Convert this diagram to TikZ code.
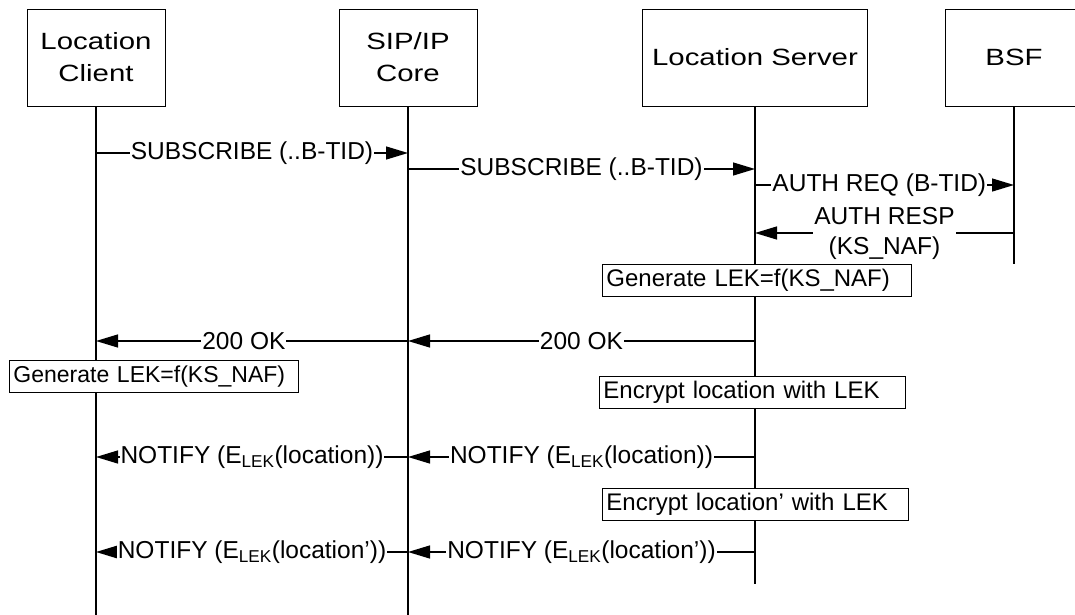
\documentclass[tikz,border=0pt]{standalone}
\usepackage{fontspec}
\setmainfont{Liberation Sans}
\newfontfamily\actorfont[FakeStretch=1.25]{Liberation Sans}
\usetikzlibrary{arrows.meta}
\usetikzlibrary{positioning}

\tikzset{
  actor/.style={draw, line width=0.9pt, minimum width=138pt, minimum height=97pt,
    align=center, font=\actorfont\fontsize{23.5}{32}\selectfont},
  lifeline/.style={line width=1.4pt},
  msg/.style={line width=1.3pt, -{Triangle[length=22pt,width=13pt]}},
  msgtext/.style={fill=white, inner xsep=1pt, inner ysep=0pt, align=center,
    font=\fontsize{24.5}{30}\selectfont},
  notebox/.style={draw, line width=0.9pt, fill=white, anchor=west, align=left,
    inner xsep=4pt, inner ysep=0pt, minimum height=32pt,
    font=\fontsize{24}{28}\selectfont}
}

\begin{document}
\begin{tikzpicture}[x=1pt, y=-1pt]
      \clip (0,0) rectangle (1075,615);
      \node[actor] (client) at (96,57.5) {Location\\Client};
      \node[actor] (core) at (408,57.5) {SIP/IP\\Core};
      \node[actor, minimum width=225pt] (server) at (755,57.5) {Location Server};
      \node[actor] (bsf) at (1014,57.5) {BSF};

      \coordinate (bottom) at (0,615);
      \coordinate (srvend) at (0,584);
      \coordinate (bsfend) at (0,264);
      \draw[lifeline] (client.south) -- (client.south |- bottom);
      \draw[lifeline] (core.south) -- (core.south |- bottom);
      \draw[lifeline] (server.south) -- (server.south |- srvend);
      \draw[lifeline] (bsf.south) -- (bsf.south |- bsfend);

      \foreach \r/\y in {r1/153, r2/169, r3/185, r4/233, r5/341, r6/457, r7/552}
        \coordinate (\r) at (0,\y);

      \draw[msg] (client |- r1) -- node[msgtext] (sub1) {SUBSCRIBE (..B-TID)} (core |- r1);
      \draw[msg] (core |- r2) -- node[msgtext] (sub2) {SUBSCRIBE (..B-TID)} (server |- r2);
      \draw[msg] (server |- r3) -- node[msgtext, pos=.48] (authreq) {AUTH REQ (B-TID)} (bsf |- r3);
      \draw[msg] (bsf |- r4) -- node[msgtext] (authresp) {AUTH RESP\\(KS\_NAF)} (server |- r4);

      \node[notebox, text width=301pt] (gensrv) at (602,280.5) {Generate LEK=f(KS\_NAF)};

      \draw[msg] (server |- r5) -- node[msgtext] (ok2) {200 OK} (core |- r5);
      \draw[msg] (core |- r5) -- node[msgtext, pos=.526] (ok1) {200 OK} (client |- r5);

      \node[notebox, text width=281pt, font=\fontsize{23}{28}\selectfont] (gencli) at (9,376.5) {\mbox{Generate LEK=f(KS\_NAF)}};
      \node[notebox, text width=298pt] (enc1) at (599,392.5) {Encrypt location with LEK};

      \draw[msg] (server |- r6) -- node[msgtext] (ntf2) {NOTIFY (E\textsubscript{LEK}(location))} (core |- r6);
      \draw[msg] (core |- r6) -- node[msgtext] (ntf1) {NOTIFY (E\textsubscript{LEK}(location))} (client |- r6);

      \node[notebox, text width=298pt] (enc2) at (602,504) {Encrypt location’ with LEK};

      \draw[msg] (server |- r7) -- node[msgtext] (ntf4) {NOTIFY (E\textsubscript{LEK}(location’))} (core |- r7);
      \draw[msg] (core |- r7) -- node[msgtext] (ntf3) {NOTIFY (E\textsubscript{LEK}(location’))} (client |- r7);
    \end{tikzpicture}
\end{document}
